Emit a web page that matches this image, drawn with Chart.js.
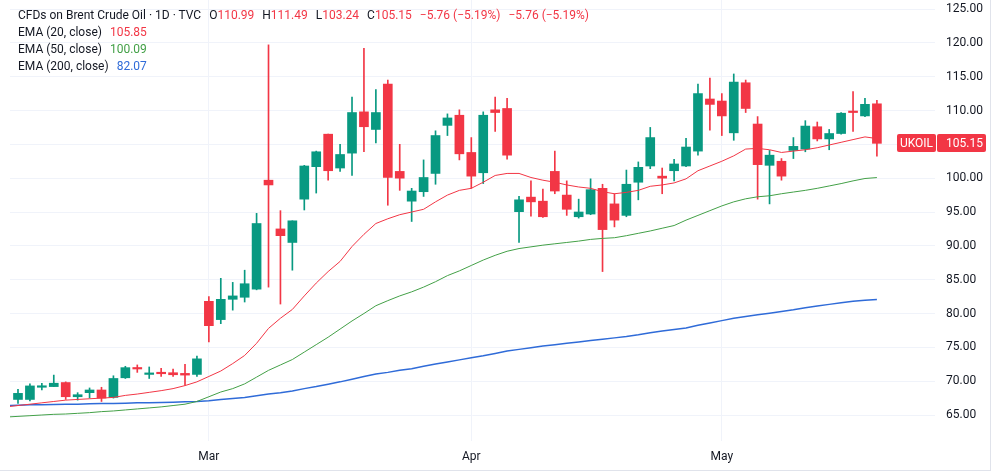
<!DOCTYPE html>
<html>
<head>
<meta charset="utf-8">
<script src="https://cdn.jsdelivr.net/npm/chart.js@4.4.1/dist/chart.umd.min.js"></script>
<style>
  html, body { margin: 0; padding: 0; background: #ffffff; }
  #wrap { position: relative; width: 1000px; height: 474px; overflow: hidden; font-family: Roboto, "Noto Sans", sans-serif; }
  #frame { position: absolute; left: 0; top: 0; width: 990px; height: 470px; border-right: 1px solid #e0e3eb; border-bottom: 1px solid #e0e3eb; pointer-events: none; }
  #legend { position: absolute; left: 18px; top: 7px; font-size: 12px; line-height: 17px; color: #131722; white-space: nowrap; }
  #legend .gap { margin-left: 8px; }
  #legend .dn { color: #f23645; }
  #legend .g { color: #43a047; }
  #legend .b { color: #2f6bd8; }
</style>
</head>
<body>
<div id="wrap">
  <canvas id="c" width="1000" height="474"></canvas>
  <div id="frame"></div>
  <div id="legend">
    <div id="l0"></div>
    <div id="l1"></div>
    <div id="l2"></div>
    <div id="l3"></div>
  </div>
</div>
<script>
// ---- DATA ----
const symbolName = 'CFDs on Brent Crude Oil · 1D · TVC';
const tickerTag = 'UKOIL';
const dates = [
  'Feb 6','Feb 9','Feb 10','Feb 11','Feb 12','Feb 13','Feb 16','Feb 17','Feb 18','Feb 19','Feb 20',
  'Feb 23','Feb 24','Feb 25','Feb 26','Feb 27',
  'Mar 2','Mar 3','Mar 4','Mar 5','Mar 6','Mar 9','Mar 10','Mar 11','Mar 12','Mar 13',
  'Mar 16','Mar 17','Mar 18','Mar 19','Mar 20','Mar 23','Mar 24','Mar 25','Mar 26','Mar 27','Mar 30','Mar 31',
  'Apr 1','Apr 2','Apr 6','Apr 7','Apr 8','Apr 9','Apr 10','Apr 13','Apr 14','Apr 15','Apr 16','Apr 17',
  'Apr 20','Apr 21','Apr 22','Apr 23','Apr 24','Apr 27','Apr 28','Apr 29','Apr 30',
  'May 1','May 4','May 5','May 6','May 7','May 8','May 11','May 12','May 13','May 14','May 15','May 18','May 19','May 20'
];
const opens = [
  67.3, 67.3, 69.1, 69.2, 69.8, 67.7, 68.3, 68.7, 67.6, 70.5, 71.9, 71.0, 71.3, 71.25, 71.15, 71.0,
  81.8, 79.1, 82.1, 82.4, 83.6, 99.7, 92.5, 90.5, 96.9, 101.7, 106.5, 101.5, 103.7, 109.8, 107.2, 113.9,
  101.0, 96.6, 98.0, 100.7, 107.8, 109.3, 103.8, 100.8, 110.1, 110.3, 95.05, 97.2, 96.6, 101.0, 97.5, 94.3,
  94.7, 98.5, 96.2, 94.5, 99.4, 101.8, 100.3, 101.1, 101.8, 104.0, 111.7, 111.4, 106.7, 114.1, 108.0, 101.9,
  102.5, 104.1, 104.3, 107.6, 105.8, 106.6, 109.9, 109.2, 110.99
];
const highs = [
  68.8, 69.6, 69.7, 70.9, 69.9, 68.3, 69.0, 69.1, 70.8, 72.2, 72.4, 72.1, 71.9, 71.8, 72.5, 73.7,
  82.5, 85.2, 84.6, 86.4, 94.8, 119.7, 95.2, 93.7, 101.9, 104.0, 106.5, 105.0, 112.0, 119.2, 113.1, 114.5,
  105.0, 98.5, 102.7, 107.0, 109.5, 110.1, 106.0, 109.8, 112.0, 111.8, 97.3, 99.6, 98.4, 104.0, 99.6, 96.9,
  99.9, 99.1, 97.7, 101.2, 102.4, 107.5, 101.5, 102.8, 105.9, 113.9, 114.8, 112.5, 115.4, 114.5, 109.1, 104.1,
  102.9, 106.0, 108.5, 108.3, 107.2, 109.7, 112.8, 111.8, 111.49
];
const lows = [
  66.7, 67.1, 68.7, 69.2, 67.3, 67.2, 67.5, 67.0, 67.5, 70.4, 71.3, 70.4, 70.7, 70.7, 69.4, 70.7,
  75.8, 78.5, 80.5, 81.7, 83.5, 83.9, 81.4, 86.4, 95.3, 97.8, 99.7, 101.0, 100.4, 103.9, 105.2, 96.0,
  98.2, 93.6, 97.3, 99.1, 106.3, 102.7, 98.5, 99.2, 106.9, 102.8, 90.5, 94.4, 94.2, 97.7, 94.5, 94.1,
  94.6, 86.2, 92.8, 94.3, 96.8, 101.4, 97.7, 99.6, 101.7, 103.4, 107.1, 106.3, 105.6, 109.7, 96.9, 96.2,
  99.7, 102.9, 103.9, 105.5, 104.2, 106.5, 106.9, 109.1, 103.24
];
const closes = [
  68.2, 69.3, 69.2, 69.7, 67.7, 68.0, 68.7, 67.5, 70.4, 72.0, 71.8, 71.2, 71.1, 70.95, 70.9, 73.3,
  78.2, 82.1, 82.6, 84.4, 93.3, 99.0, 91.5, 93.7, 101.8, 103.9, 101.1, 103.5, 109.7, 107.6, 109.7, 100.1,
  100.0, 98.1, 100.1, 106.3, 108.9, 103.6, 100.3, 109.3, 109.7, 103.4, 96.8, 96.5, 94.3, 98.1, 95.4, 95.0,
  98.3, 92.4, 93.8, 99.1, 101.6, 106.0, 100.0, 102.1, 104.6, 112.5, 110.9, 109.2, 114.2, 110.3, 102.0, 103.4,
  100.3, 104.7, 107.7, 105.8, 106.6, 109.6, 109.7, 110.91, 105.15
];
// EMA values; first value belongs to the partly hidden bar before the first full candle
const ema20 = [
  66.2, 66.4, 66.6, 66.8, 67.0, 67.2, 67.3, 67.4, 67.5, 67.6, 67.9, 68.1, 68.35, 68.6, 68.9, 69.35, 69.9,
  70.7, 71.5, 72.6, 73.8, 75.6, 77.8, 79.3, 80.6, 82.6, 84.5, 86.2, 87.7, 89.9, 91.7, 93.3, 94.0,
  94.6, 95.0, 95.4, 96.5, 97.5, 98.2, 98.5, 99.4, 100.4, 100.7, 100.7, 100.1, 99.7, 99.4, 99.0, 98.7,
  98.5, 98.0, 97.7, 97.9, 98.2, 98.8, 99.0, 99.3, 99.9, 101.1, 101.8, 102.5, 103.3, 104.3, 104.4, 104.2,
  103.8, 104.0, 104.2, 104.5, 104.9, 105.3, 105.7, 106.1, 105.85
];
const ema50 = [
  64.7, 64.8, 64.9, 65.0, 65.1, 65.15, 65.25, 65.35, 65.5, 65.6, 65.75, 65.9, 66.05, 66.2, 66.4, 66.6, 67.0,
  67.7, 68.4, 68.9, 69.6, 70.6, 71.6, 72.4, 73.2, 74.3, 75.4, 76.5, 77.7, 78.9, 80.0, 81.15, 81.9,
  82.6, 83.2, 83.9, 84.7, 85.6, 86.3, 87.1, 87.9, 88.6, 89.2, 89.6, 89.85, 90.1, 90.3, 90.5, 90.7,
  90.95, 91.1, 91.2, 91.5, 91.85, 92.2, 92.6, 93.0, 93.8, 94.5, 95.2, 95.9, 96.5, 96.95, 97.25, 97.4,
  97.7, 97.95, 98.2, 98.5, 98.85, 99.2, 99.6, 99.95, 100.09
];
const ema200 = [
  66.4, 66.45, 66.5, 66.5, 66.55, 66.6, 66.6, 66.65, 66.7, 66.7, 66.75, 66.8, 66.8, 66.85, 66.9, 66.95, 67.0,
  67.1, 67.3, 67.45, 67.6, 67.85, 68.1, 68.3, 68.55, 68.9, 69.2, 69.55, 69.9, 70.3, 70.7, 71.05, 71.3,
  71.6, 71.85, 72.2, 72.55, 72.85, 73.15, 73.45, 73.75, 74.1, 74.45, 74.7, 74.95, 75.2, 75.4, 75.6, 75.8,
  76.0, 76.2, 76.4, 76.6, 76.85, 77.15, 77.4, 77.65, 77.85, 78.25, 78.6, 78.95, 79.3, 79.55, 79.8, 80.05,
  80.3, 80.55, 80.85, 81.1, 81.35, 81.6, 81.8, 81.95, 82.07
];
const monthTickIndex = [16, 38, 59];
const monthTickLabels = ['Mar', 'Apr', 'May'];
const priceTicks = [65, 70, 75, 80, 85, 90, 95, 100, 105, 110, 115, 120, 125];

// ---- COLORS ----
const UP = '#089981', DOWN = '#f23645';
const C20 = '#f23645', C50 = '#43a047', C200 = '#2f6bd8';

const n = closes.length;
const candleColor = closes.map((c, i) => c >= opens[i] ? UP : DOWN);
const bodies = closes.map((c, i) => ({ x: i, y: [opens[i], c] }));
const wicks = closes.map((c, i) => ({ x: i, y: [lows[i], highs[i]] }));
const emaPts = arr => arr.map((v, k) => ({ x: k - 1, y: v }));

// ---- LEGEND (real text) ----
const last = n - 1;
const chg = closes[last] - closes[last - 1];
const pct = chg / closes[last - 1] * 100;
const fmt = v => v.toFixed(2);
const sgn = v => (v < 0 ? '\u2212' : '+') + Math.abs(v).toFixed(2);
const valCls = closes[last] >= opens[last] ? 'g' : 'dn';
document.getElementById('l0').innerHTML =
  symbolName +
  '<span class="gap">O<span class="' + valCls + '">' + fmt(opens[last]) + '</span></span>' +
  '<span class="gap">H<span class="' + valCls + '">' + fmt(highs[last]) + '</span></span>' +
  '<span class="gap">L<span class="' + valCls + '">' + fmt(lows[last]) + '</span></span>' +
  '<span class="gap">C<span class="' + valCls + '">' + fmt(closes[last]) + '</span></span>' +
  '<span class="gap ' + valCls + '">' + sgn(chg) + ' (' + sgn(pct) + '%)</span>' +
  '<span class="gap ' + valCls + '">' + sgn(chg) + ' (' + sgn(pct) + '%)</span>';
document.getElementById('l1').innerHTML = 'EMA (20, close)<span class="gap dn">' + fmt(ema20[ema20.length - 1]) + '</span>';
document.getElementById('l2').innerHTML = 'EMA (50, close)<span class="gap g">' + fmt(ema50[ema50.length - 1]) + '</span>';
document.getElementById('l3').innerHTML = 'EMA (200, close)<span class="gap b">' + fmt(ema200[ema200.length - 1]) + '</span>';

// ---- PRICE TAG PLUGIN ----
function rrect(ctx, x, y, w, h, r) {
  ctx.beginPath();
  ctx.moveTo(x + r, y);
  ctx.lineTo(x + w - r, y); ctx.quadraticCurveTo(x + w, y, x + w, y + r);
  ctx.lineTo(x + w, y + h - r); ctx.quadraticCurveTo(x + w, y + h, x + w - r, y + h);
  ctx.lineTo(x + r, y + h); ctx.quadraticCurveTo(x, y + h, x, y + h - r);
  ctx.lineTo(x, y + r); ctx.quadraticCurveTo(x, y, x + r, y);
  ctx.closePath(); ctx.fill();
}
const priceTag = {
  id: 'priceTag',
  afterDraw(chart) {
    const { ctx, chartArea } = chart;
    const v = closes[last];
    const py = Math.round(chart.scales.y.getPixelForValue(v));
    const col = closes[last] >= opens[last] ? UP : DOWN;
    ctx.save();
    ctx.fillStyle = col;
    rrect(ctx, chartArea.right - 38, py - 9, 39, 18, 2);
    rrect(ctx, chartArea.right + 2, py - 9, 49, 18, 2);
    ctx.fillStyle = '#ffffff';
    ctx.font = '12px Roboto, "Noto Sans", sans-serif';
    ctx.textBaseline = 'middle';
    ctx.textAlign = 'center';
    ctx.fillText(tickerTag, chartArea.right - 18.5, py + 0.5);
    ctx.textAlign = 'left';
    ctx.fillText(fmt(v), chartArea.right + 11, py + 0.5);
    ctx.restore();
  }
};

// ---- CHART ----
new Chart(document.getElementById('c'), {
  data: {
    datasets: [
      { type: 'line', label: 'EMA 20', data: emaPts(ema20), borderColor: C20, borderWidth: 1, pointRadius: 0, tension: 0, order: 1 },
      { type: 'line', label: 'EMA 50', data: emaPts(ema50), borderColor: C50, borderWidth: 1, pointRadius: 0, tension: 0, order: 1 },
      { type: 'line', label: 'EMA 200', data: emaPts(ema200), borderColor: C200, borderWidth: 1.5, pointRadius: 0, tension: 0, order: 1 },
      { type: 'bar', label: 'body', data: bodies, backgroundColor: candleColor, borderWidth: 0, barThickness: 9, minBarLength: 1.5, grouped: false, order: 2 },
      { type: 'bar', label: 'wick', data: wicks, backgroundColor: candleColor, borderWidth: 0, barThickness: 1, grouped: false, order: 3 }
    ]
  },
  options: {
    responsive: false,
    animation: false,
    events: [],
    layout: { padding: { left: 10, right: 10, top: 0, bottom: 0 } },
    plugins: { legend: { display: false }, tooltip: { enabled: false } },
    scales: {
      x: {
        type: 'linear',
        min: -0.67,
        max: 76.87,
        offset: false,
        border: { display: false },
        grid: { color: '#f0f3fa', drawTicks: false, lineWidth: 1, offset: false },
        afterBuildTicks: s => { s.ticks = monthTickIndex.map(v => ({ value: v })); },
        afterFit: s => { s.height = 33; s.paddingLeft = 0; s.paddingRight = 0; },
        ticks: {
          autoSkip: false, maxRotation: 0, padding: 9,
          color: '#131722',
          font: { family: 'Roboto, "Noto Sans", sans-serif', size: 12 },
          callback: v => { const k = monthTickIndex.indexOf(v); return k >= 0 ? monthTickLabels[k] : ''; }
        }
      },
      y: {
        type: 'linear',
        position: 'right',
        min: 61.16,
        max: 126.33,
        border: { display: false },
        grid: { color: '#f0f3fa', drawTicks: false, lineWidth: 1 },
        afterBuildTicks: s => { s.ticks = priceTicks.map(v => ({ value: v })); },
        afterFit: s => { s.width = 55; s.paddingTop = 0; s.paddingBottom = 0; },
        ticks: {
          padding: 11,
          color: '#131722',
          font: { family: 'Roboto, "Noto Sans", sans-serif', size: 12 },
          callback: v => Number(v).toFixed(2)
        }
      }
    }
  },
  plugins: [priceTag]
});
</script>
</body>
</html>
